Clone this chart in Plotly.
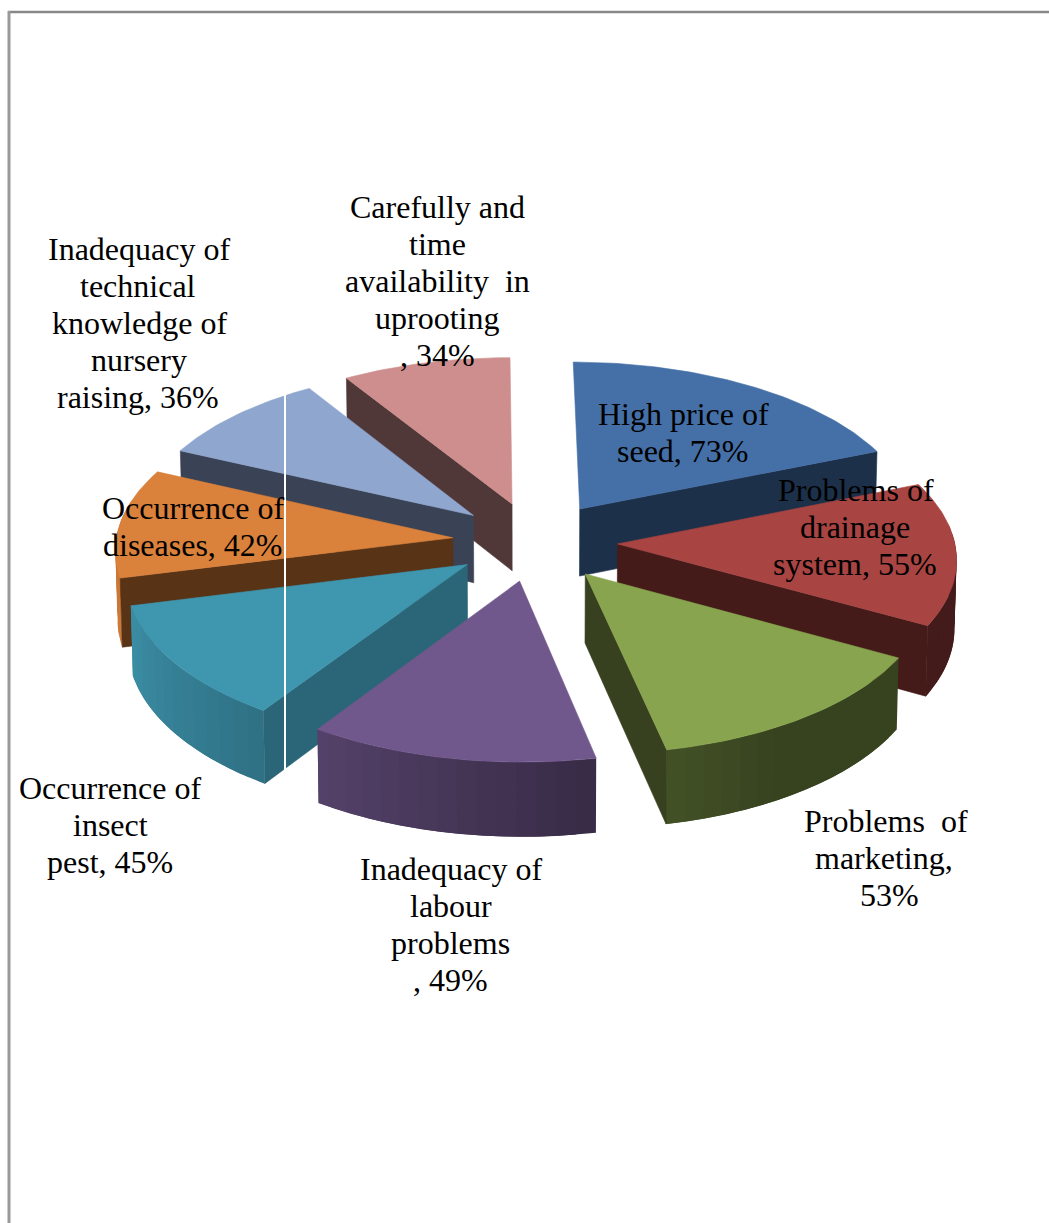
import numpy as np
import plotly.graph_objects as go

categories = ["High price of seed", "Problems of drainage system", "Problems of marketing",
              "Inadequacy of labour problems", "Occurrence of insect pest", "Occurrence of diseases",
              "Inadequacy of technical knowledge of nursery raising",
              "Carefully and time availability in uprooting"]
values = [73, 55, 53, 49, 45, 42, 36, 34]
top_colors = ["#4470A7", "#A84442", "#88A44E", "#70578C", "#3F96AF", "#DA813B", "#8FA6CE", "#CE8E8E"]
side_colors = ["#1D304A", "#451B1A", "#37401F", "#3A2A4A", "#2B6678", "#593316", "#3A4255", "#513838"]
paint_order = [7, 0, 6, 1, 5, 2, 4, 3]

label_lines = [
    ["High price of", "seed, 73%"],
    ["Problems of", "drainage", "system, 55%"],
    ["Problems\u00a0 of", "marketing,", "53%"],
    ["Inadequacy of", "labour", "problems", ", 49%"],
    ["Occurrence of", "insect", "pest, 45%"],
    ["Occurrence of", "diseases, 42%"],
    ["Inadequacy of", "technical", "knowledge of", "nursery", "raising, 36%"],
    ["Carefully and", "time", "availability\u00a0 in", "uprooting", ", 34%"],
]
label_x = [
    [683, 683], [856, 855, 855], [886, 884, 889], [451, 451, 450, 450],
    [110, 110, 110], [193, 193], [139, 138, 139, 139, 138], [437, 437, 437, 437, 437],
]
label_y0 = [413.5, 489.5, 820.5, 868.5, 787.5, 507.5, 248.5, 206.5]
line_gap = 37

# projection of the exploded pie
CX, CY, RX, RY, PERSP, EXPLODE, DEPTH, SKEW = 535, 541.5, 337, 162, 0.072, 0.245, 68, 3.5


def project(gx, gy, drop=0.0):
    g = 1 / (1 + PERSP * gy)
    x = CX + RX * gx * g - SKEW * gy
    y = CY - RY * gy * g
    if drop:
        x = CX + (x - CX) * 0.995
        y = y + DEPTH * drop * g
    return x, y


def shade(hex_color, f):
    c = [int(hex_color[i:i + 2], 16) for i in (1, 3, 5)]
    return "rgb(%d,%d,%d)" % tuple(int(v * f) for v in c)


def poly(fig, xs, ys, color, line=0.6):
    fig.add_trace(go.Scatter(x=xs, y=ys, mode="lines", fill="toself", fillcolor=color,
                             line=dict(color=color, width=line), hoverinfo="skip", showlegend=False))


fig = go.Figure()
total = sum(values)
edges = np.concatenate([[0], np.cumsum(values)]) / total * 2 * np.pi


def rim_factor(deg):
    return float(np.interp(deg, [0, 150, 168, 214, 256, 295, 360], [.41, .41, .5, .76, .95, .9, .9]))


for k in paint_order:
    a0, a1 = edges[k], edges[k + 1]
    mid = (a0 + a1) / 2
    ox, oy = EXPLODE * np.sin(mid), EXPLODE * np.cos(mid)
    th = np.linspace(a0, a1, max(int(np.degrees(a1 - a0) / 1.0), 6))
    gx, gy = ox + np.sin(th), oy + np.cos(th)

    # outer rim: overlapping bands, so that no seam shows between them
    for i in range(0, len(th) - 1, 3):
        j = min(i + 7, len(th))
        am = th[min(i + 1, len(th) - 1)]
        if np.cos(am) > 0.15:
            continue
        tx, ty = project(gx[i:j], gy[i:j])
        bx, by = project(gx[i:j], gy[i:j], 1.0)
        poly(fig, np.r_[tx, bx[::-1], tx[:1]], np.r_[ty, by[::-1], ty[:1]],
             shade(top_colors[k], rim_factor(np.degrees(am))), line=0)

    # radial faces that look towards the viewer
    for a, front in ((a0, np.sin(a0) < -1e-6), (a1, np.sin(a1) > 1e-6)):
        if not front:
            continue
        ex, ey = ox + np.sin(a), oy + np.cos(a)
        t = project(np.array([ox, ex]), np.array([oy, ey]))
        b = project(np.array([ox, ex]), np.array([oy, ey]), 1.0)
        poly(fig, [t[0][0], t[0][1], b[0][1], b[0][0], t[0][0]],
             [t[1][0], t[1][1], b[1][1], b[1][0], t[1][0]], side_colors[k])

    # top face
    tx, ty = project(gx, gy)
    ax, ay = project(np.array([ox]), np.array([oy]))
    poly(fig, np.r_[ax, tx, ax], np.r_[ay, ty, ay], top_colors[k])

shapes = [
    dict(type="line", x0=285, x1=285, y0=392, y1=772, line=dict(color="white", width=2)),
    dict(type="line", x0=8, x1=1049, y0=12, y1=12, line=dict(color="#888888", width=2.5)),
    dict(type="line", x0=9, x1=9, y0=11, y1=1223, line=dict(color="#999999", width=3)),
]

annotations = []
for lines, xs, y0 in zip(label_lines, label_x, label_y0):
    for i, (txt, x) in enumerate(zip(lines, xs)):
        annotations.append(dict(x=x, y=y0 + i * line_gap, text=txt, showarrow=False,
                                xanchor="center", yanchor="middle",
                                font=dict(family="Liberation Serif", size=32, color="#000000")))

fig.update_layout(
    width=1049, height=1223, margin=dict(l=0, r=0, t=0, b=0),
    paper_bgcolor="white", plot_bgcolor="white", showlegend=False,
    xaxis=dict(range=[0, 1049], visible=False, fixedrange=True),
    yaxis=dict(range=[1223, 0], visible=False, fixedrange=True),
    shapes=shapes, annotations=annotations,
)
fig.write_html("out.html", config={"displayModeBar": False},
               post_script="document.body.style.margin='0';document.body.style.overflow='hidden';")
